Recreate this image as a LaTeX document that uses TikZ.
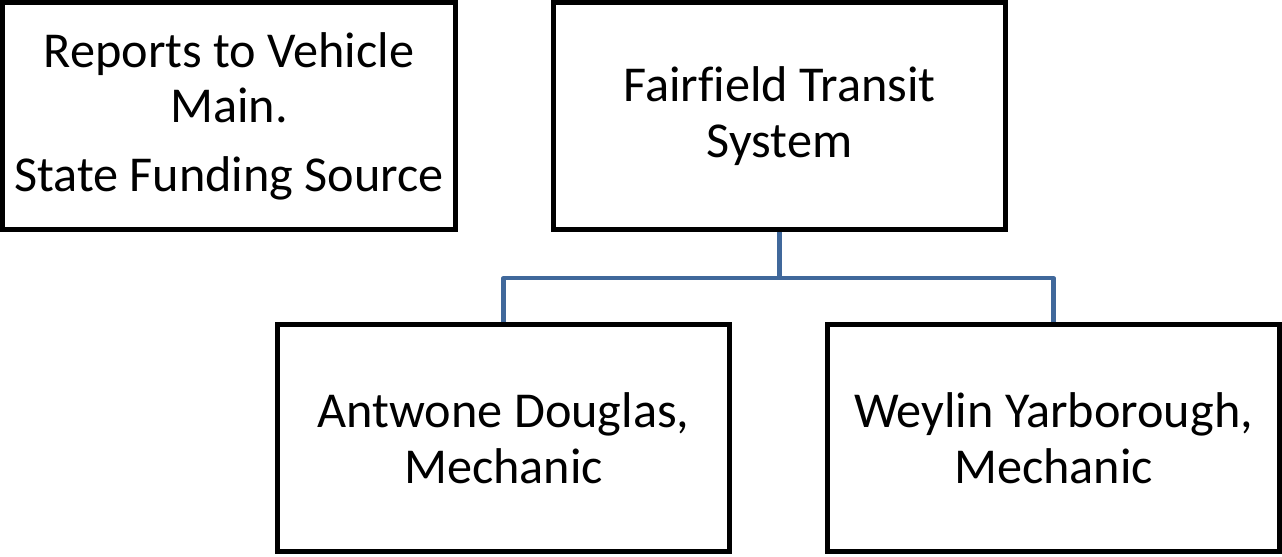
\documentclass[tikz,border=0pt]{standalone}
\usepackage{fontspec}
\setmainfont{Carlito}[Ligatures=NoCommon]
\definecolor{linkblue}{RGB}{64,104,155}
\begin{document}
\begin{tikzpicture}[x=0.02cm, y=-0.02cm,
    unit/.style={draw, line width=2.85pt, minimum width=9.06cm, minimum height=4.54cm, align=center, font=\fontsize{28.6}{31.6}\selectfont},
    link/.style={linkblue, line width=2.3pt, line join=round}]
        \useasboundingbox (0, 0) rectangle (1282, 556);
        % Boxes
        \node (reports) at (229, 116) [unit] {Reports to Vehicle\\Main.\\[0.26cm]State Funding Source};
        \node (fts) at (779.5, 116) [unit] {Fairfield Transit\\System};
        \node (douglas) at (503.5, 438) [unit] {Antwone Douglas,\\Mechanic};
        \node (yarborough) at (1053.5, 438) [unit] {Weylin Yarborough,\\Mechanic};
        \coordinate (split) at (779.5, 278);
        % Links
        \draw[link] (fts.south) -- (split);
        \draw[link] (douglas.north) |- (split) -| (yarborough.north);
    \end{tikzpicture}
\end{document}
